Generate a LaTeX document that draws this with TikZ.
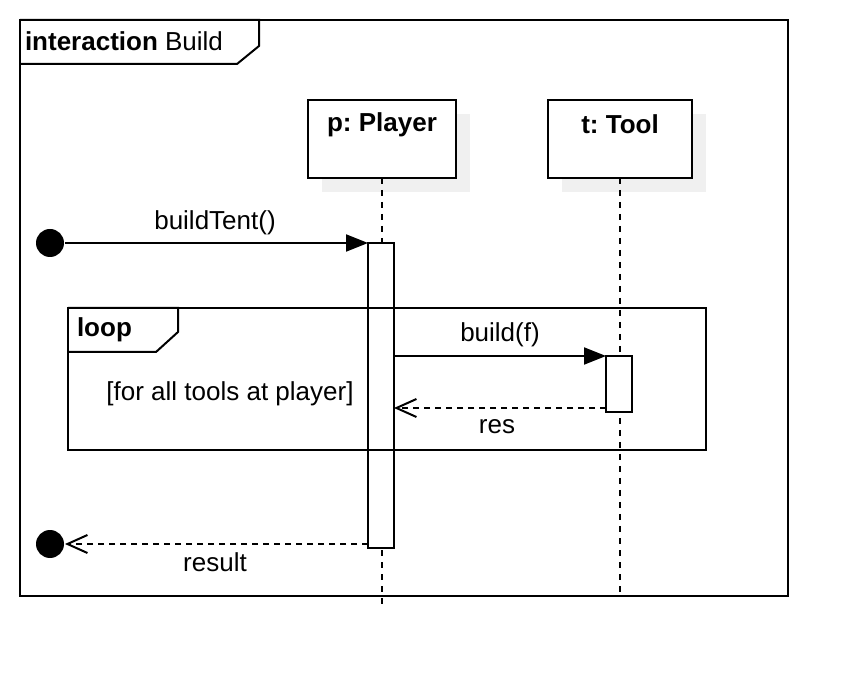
\documentclass[tikz,border=0pt]{standalone}
\usepackage{fontspec}
\setmainfont{Liberation Sans}
\usetikzlibrary{arrows.meta,shadows}
\frenchspacing

\begin{document}
\begin{tikzpicture}[x=1pt,y=-1pt,line width=2pt,
  lbl/.style={font=\fontsize{26}{31}\selectfont,inner sep=0pt},
  lifebox/.style={draw,fill=white,anchor=north west,minimum height=78pt,outer sep=0pt,
    drop shadow={shadow xshift=14pt,shadow yshift=-14pt,fill=black!6,opacity=1}},
  actbox/.style={draw,fill=white,anchor=north,minimum width=26pt,outer sep=0pt},
  framebox/.style={draw,anchor=north west,outer sep=0pt},
  lifeline/.style={line width=1.6pt,dash pattern=on 6pt off 6pt},
  dot/.style={fill=black,circle,inner sep=0pt,minimum size=28pt},
  msg/.style={-{Triangle[length=22pt,width=17pt]}},
  ret/.style={dash pattern=on 6pt off 5pt,-{Straight Barb[length=20pt,width=18pt]}}]
  \useasboundingbox (0,0) rectangle (868,684);
  % outer frame
  \node[framebox,minimum width=768pt,minimum height=576pt] (main) at (20,20) {};
  \draw (main.north west) -- ++(239,0) -- ++(0,26) -- ++(-22,18) -- ++(-217,0);
  \node[lbl,anchor=west] (title) at (24,41) {\textbf{interaction} Build};
  % lifelines
  \node[lifebox,minimum width=148pt] (player) at (308,100) {};
  \node[lifebox,minimum width=144pt] (tool) at (548,100) {};
  \node[lbl,font=\fontsize{26}{31}\selectfont\bfseries] (playername) at (382,125) {p: Player};
  \node[lbl,font=\fontsize{26}{31}\selectfont\bfseries] (toolname) at (620,124) {t: Tool};
  \coordinate (playerend) at (382,604);
  \coordinate (toolend) at (620,596);
  \draw[lifeline] (player.south) -- (playerend);
  \draw[lifeline] (tool.south) -- (toolend);
  % activations
  \node[actbox,minimum height=305pt] (act1) at (381,243) {};
  \node[actbox,minimum height=56pt] (act2) at (619,356) {};
  % messages
  \node[dot] (start) at (50,243) {};
  \node[dot] (stop) at (50,544) {};
  \draw[msg] (start) -- (act1.north west);
  \node[lbl] (buildtent) at (215,223) {buildTent()};
  \draw[msg] (act1.east |- act2.north) -- (act2.north west);
  \node[lbl] (build) at (500,335) {build(f)};
  \coordinate (resfrom) at ([yshift=4pt]act2.south west);
  \draw[ret] (resfrom) -- (act1.east |- resfrom);
  \node[lbl] (res) at (497,427) {res};
  \coordinate (resultfrom) at (act1.south west |- stop);
  \draw[ret] (resultfrom) -- (stop);
  \node[lbl] (result) at (215,562) {result};
  % loop fragment
  \node[framebox,minimum width=638pt,minimum height=142pt] (loop) at (68,308) {};
  \draw (loop.north west) -- ++(110,0) -- ++(0,24) -- ++(-22,20) -- ++(-88,0);
  \node[lbl,font=\fontsize{26}{31}\selectfont\bfseries,anchor=west] (looplbl) at (76,330) {loop};
  \node[lbl] (guard) at (230,394) {[for all tools at player]};
\end{tikzpicture}
\end{document}
